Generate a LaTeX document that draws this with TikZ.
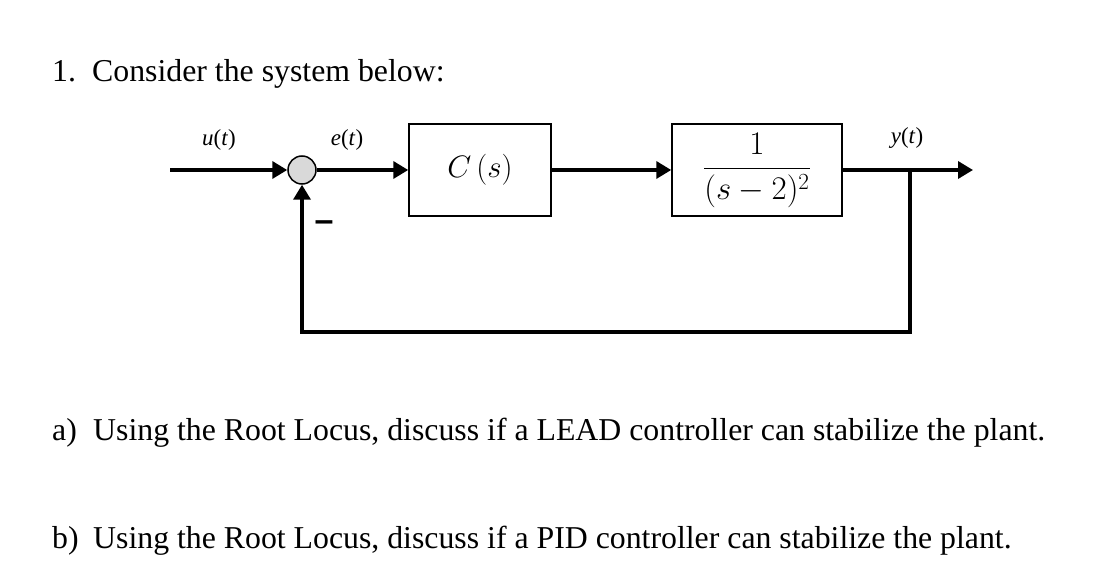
\RequirePackage{fix-cm}
\documentclass[tikz,border=0pt]{standalone}
\usepackage{amsmath}
\usepackage{fontspec}
\setmainfont{Liberation Serif}
\newfontfamily\signfont{Liberation Sans}
\usepackage{tikz}
\usetikzlibrary{arrows.meta}
\usetikzlibrary{positioning}
\tikzset{sig/.style = {line width=3.5pt},
         sigarrow/.style = {sig, -{Triangle[length=15pt, width=17pt]}},
         block/.style = {draw, line width=1.5pt, minimum height=92pt},
         sumnode/.style = {circle, draw, line width=1.5pt, fill=gray!30, minimum size=28pt, inner sep=0pt},
         question/.style = {anchor=base west, inner sep=0pt, font=\fontsize{31.8}{38}\selectfont},
         siglabel/.style = {font=\fontsize{23}{27}\selectfont}}

\begin{document}
\begin{tikzpicture}[x=1pt, y=1pt]
      \useasboundingbox (0, 0) rectangle (1112, 582);

      \node [question] (num) at (52, 500) {1.};
      \node [question] (title) at (92, 500) {Consider the system below:};

      \coordinate (in) at (170, 412);
      \node [sumnode] (sum) at (302, 412) {};
      \node [block, minimum width=142pt, font=\fontsize{31}{36}\selectfont] (ctrl) at (480, 412) {$C\,(s)$};
      \node [block, minimum width=170pt, font=\fontsize{33}{40}\selectfont] (plant) at (757, 412) {$\dfrac{1}{(s-2)^2}$};
      \coordinate (branch) at (910, 412);
      \coordinate (out) at (973, 412);
      \coordinate (fb) at (910, 250);

      \draw [sigarrow] (in) -- (sum.west);
      \draw [sigarrow] (sum.east) -- (ctrl.west);
      \draw [sigarrow] (ctrl.east) -- (plant.west);
      \draw [sigarrow] (plant.east) -- (out);
      \draw [sigarrow] (branch) -- (fb) -| (sum.south);

      \node [siglabel] (u) at (219, 442) {\textit{u}(\textit{t})};
      \node [siglabel] (e) at (347, 442) {\textit{e}(\textit{t})};
      \node [siglabel] (y) at (907, 444) {\textit{y}(\textit{t})};
      \node [font=\signfont\bfseries\fontsize{34}{34}\selectfont] (minus) at (324, 356) {–};

      \node [question] (a) at (52, 142) {a)};
      \node [question] (qa) at (93, 142) {Using the Root Locus, discuss if a LEAD controller can stabilize the plant.};
      \node [question] (b) at (52, 34) {b)};
      \node [question] (qb) at (93, 34) {Using the Root Locus, discuss if a PID controller can stabilize the plant.};
    \end{tikzpicture}
\end{document}
